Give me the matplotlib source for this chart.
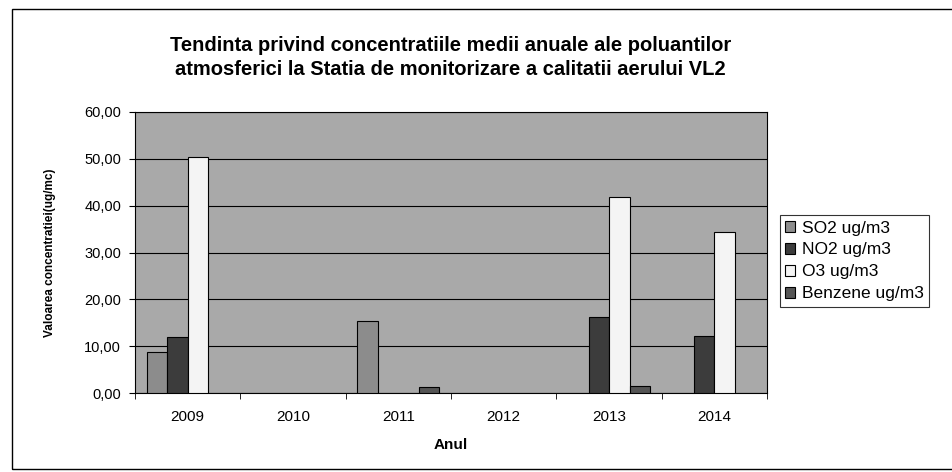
import numpy as np
import matplotlib
matplotlib.use("Agg")
import matplotlib.pyplot as plt
from matplotlib.patches import Rectangle

plt.rcParams['font.family'] = ['Liberation Sans', 'DejaVu Sans']

years = ['2009', '2010', '2011', '2012', '2013', '2014']
nan = np.nan
so2 = [8.8, nan, 15.3, nan, nan, nan]
no2 = [12.0, nan, nan, nan, 16.2, 12.3]
o3 = [50.3, nan, nan, nan, 41.8, 34.4]
benzen = [nan, nan, 1.3, nan, 1.5, nan]

series = [
    ('SO2 ug/m3', so2, '#8c8c8c'),
    ('NO2 ug/m3', no2, '#3c3c3c'),
    ('O3 ug/m3', o3, '#f4f4f4'),
    ('Benzene ug/m3', benzen, '#555555'),
]

fig = plt.figure(figsize=(9.52, 4.72), dpi=100)
# chenar exterior al graficului
fig.patches.append(Rectangle((0.0126, 0.006), 1.0, 0.975, transform=fig.transFigure,
                             fill=False, edgecolor='black', linewidth=1.0))

ax = fig.add_axes([0.1418, 0.167, 0.664, 0.596])
ax.set_facecolor('#a9a9a9')

x = np.arange(len(years))
w = 0.195
for i, (name, vals, col) in enumerate(series):
    ax.bar(x + (i - 1.5) * w, np.array(vals, dtype=float), w, color=col,
           edgecolor='black', linewidth=0.8, label=name, zorder=3)

ax.set_xlim(-0.5, len(years) - 0.5)
ax.set_ylim(0, 60)
ax.set_yticks(range(0, 61, 10))
ax.set_yticklabels(['%d,00' % v for v in range(0, 61, 10)], fontsize=10.5)
ax.set_xticks(x)
ax.set_xticklabels(years, fontsize=11)
ax.set_xticks(np.arange(-0.5, len(years)), minor=True)
ax.tick_params(axis='x', which='major', length=0, pad=12)
ax.tick_params(axis='x', which='minor', length=4)
ax.tick_params(axis='y', length=4, pad=6)
ax.grid(axis='y', color='black', linewidth=0.8, zorder=1)
for s in ax.spines.values():
    s.set_linewidth(0.8)

ax.set_xlabel('Anul', fontsize=11, fontweight='bold', labelpad=10)
ax.set_ylabel('Valoarea concentratiei(ug/mc)', fontsize=8.5, fontweight='bold', labelpad=20)

fig.text(0.473, 0.878, 'Tendinta privind concentratiile medii anuale ale poluantilor\n'
         'atmosferici la Statia de monitorizare a calitatii aerului VL2',
         ha='center', va='center', fontsize=14.5, fontweight='bold', linespacing=1.3)

leg = ax.legend(loc='center left', bbox_to_anchor=(1.02, 0.47), fontsize=12.5,
                frameon=True, fancybox=False, edgecolor='black', handlelength=0.6,
                handleheight=0.6, handletextpad=0.4, borderpad=0.3, labelspacing=0.4,
                borderaxespad=0)
leg.get_frame().set_linewidth(0.8)

fig.savefig('out.png', dpi=100)
